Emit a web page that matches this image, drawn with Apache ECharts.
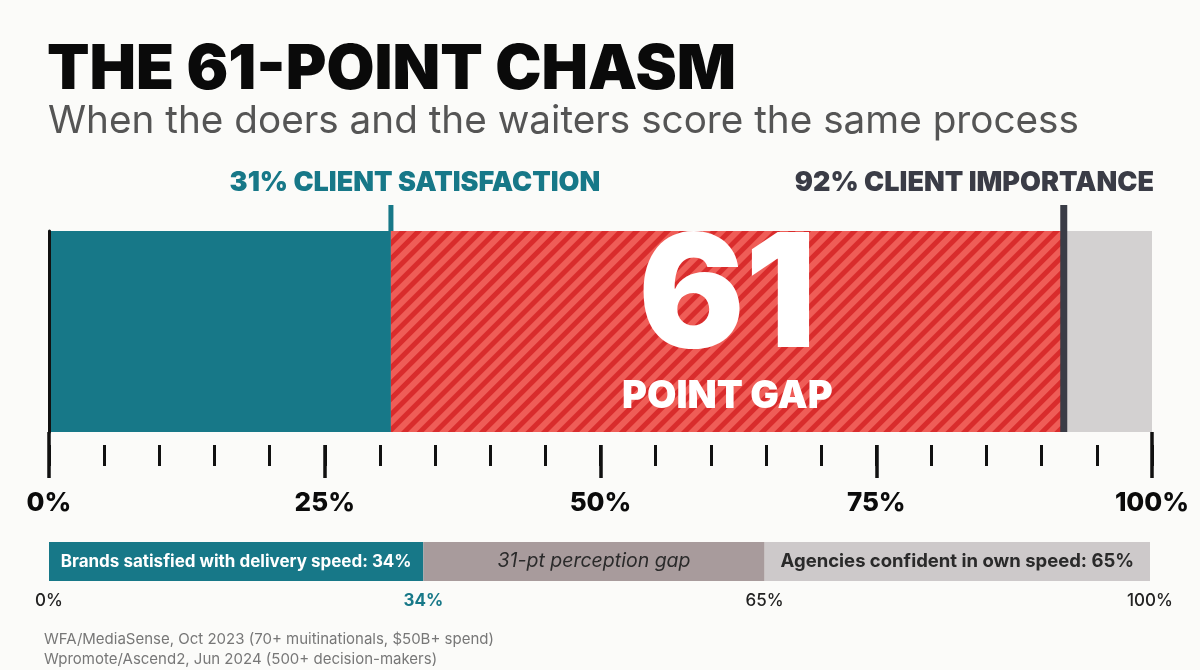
<!DOCTYPE html>
<html>
<head>
<meta charset="utf-8">
<script src="https://cdn.jsdelivr.net/npm/echarts@6/dist/echarts.min.js"></script>
<style>
  html, body { margin: 0; padding: 0; background: #fbfbf9; }
  #chart { width: 1200px; height: 670px; }
</style>
</head>
<body>
<div id="chart"></div>
<script>
// main bar: satisfaction / gap / rest of the scale
var mainNames = ['Client satisfaction', 'Point gap', 'Remainder'];
var mainValues = [31, 61, 8];
var markerValues = [31, 92];
var markerLabels = ['31% CLIENT SATISFACTION', '92% CLIENT IMPORTANCE'];

// delivery speed bar
var speedNames = ['Brands', 'Gap', 'Agencies'];
var speedValues = [34, 31, 35];
var speedLabels = ['Brands satisfied with delivery speed: 34%', '31-pt perception gap', 'Agencies confident in own speed: 65%'];
var speedTicks = [0, 34, 65, 100];

var sources = [
  'WFA/MediaSense, Oct 2023 (70+ muitinationals, $50B+ spend)',
  'Wpromote/Ascend2, Jun 2024 (500+ decision-makers)'
];

var FONT = 'Inter, Lato, sans-serif';
var TEAL = '#177888';

var myChart = echarts.init(document.getElementById('chart'));

var mainColors = [TEAL, '#d92c2c', '#d3d1d1'];
var speedColors = [TEAL, '#a89b9c', '#cdc9ca'];

var series = [];
mainValues.forEach(function (v, i) {
  var s = {
    name: mainNames[i],
    type: 'bar',
    stack: 'main',
    xAxisIndex: 0,
    yAxisIndex: 0,
    barWidth: '100%',
    data: [v],
    itemStyle: { color: mainColors[i] },
    silent: true
  };
  if (i === 1) {
    // diagonal hatching, rising to the right
    s.itemStyle.decal = {
      symbol: 'rect',
      symbolSize: 1,
      color: '#ef5d57',
      dashArrayX: [1, 0],
      dashArrayY: [6, 5],
      rotation: -Math.PI / 4
    };
    s.label = {
      show: true,
      position: 'inside',
      formatter: function () { return '{big|' + mainValues[1] + '}\n{small|POINT GAP}'; },
      rich: {
        big: { fontSize: 158, fontWeight: 900, color: '#fff', fontFamily: FONT, lineHeight: 131 },
        small: { fontSize: 38, fontWeight: 900, color: '#fff', fontFamily: FONT, lineHeight: 64 }
      }
    };
  }
  series.push(s);
});

speedValues.forEach(function (v, i) {
  series.push({
    name: speedNames[i],
    type: 'bar',
    stack: 'speed',
    xAxisIndex: 3,
    yAxisIndex: 1,
    barWidth: '100%',
    data: [v],
    itemStyle: { color: speedColors[i] },
    silent: true,
    label: {
      show: true,
      position: 'inside',
      formatter: speedLabels[i],
      fontFamily: FONT,
      fontSize: [17, 19.5, 18.5][i],
      fontWeight: i === 1 ? 400 : 700,
      fontStyle: i === 1 ? 'italic' : 'normal',
      color: i === 0 ? '#fff' : '#2a2a2a'
    }
  });
});

// marker lines with their headings
series.push({
  type: 'custom',
  xAxisIndex: 0,
  yAxisIndex: 0,
  silent: true,
  z: 10,
  data: markerValues.map(function (v) { return [v, 0]; }),
  renderItem: function (params, api) {
    var pt = api.coord([api.value(0), 0]);
    var h = api.size([0, 1])[1];
    var top = pt[1] - h / 2, bottom = pt[1] + h / 2;
    var right = api.coord([100, 0])[0];
    var first = params.dataIndex === 0;
    var color = first ? TEAL : '#3a3c46';
    return {
      type: 'group',
      children: [
        {
          type: 'line',
          shape: { x1: pt[0], y1: top - 26, x2: pt[0], y2: first ? top : bottom },
          style: { stroke: color, lineWidth: first ? 5 : 7 }
        },
        {
          type: 'text',
          style: {
            text: markerLabels[params.dataIndex],
            x: first ? pt[0] + 24 : right + 2,
            y: top - 48,
            align: first ? 'center' : 'right',
            verticalAlign: 'middle',
            fill: color,
            fontFamily: FONT,
            fontSize: 27,
            fontWeight: 900
          }
        }
      ]
    };
  }
});

myChart.setOption({
  animation: false,
  backgroundColor: '#fbfbf9',
  title: [
    {
      text: 'THE 61-POINT CHASM',
      left: 42, top: 34,
      textStyle: { fontFamily: FONT, fontSize: 62, fontWeight: 900, color: '#0a0a0a' }
    },
    {
      text: 'When the doers and the waiters score the same process',
      left: 43, top: 97,
      textStyle: { fontFamily: FONT, fontSize: 38.7, fontWeight: 400, color: '#555' }
    },
    {
      text: sources.join('\n'),
      left: 39, top: 624,
      textStyle: { fontFamily: FONT, fontSize: 15, fontWeight: 400, color: '#777', lineHeight: 20 }
    }
  ],
  grid: [
    { left: 49, right: 48, top: 231, height: 201 },
    { left: 49, right: 50, top: 542, height: 39 }
  ],
  xAxis: [
    {
      type: 'value', gridIndex: 0, min: 0, max: 100, interval: 5, offset: 13,
      axisLine: { show: false }, splitLine: { show: false }, axisLabel: { show: false },
      axisTick: { show: true, length: 21, lineStyle: { color: '#111', width: 3 } }
    },
    {
      type: 'value', gridIndex: 0, min: 0, max: 100, interval: 25, offset: 13, position: 'bottom',
      axisLine: { show: false }, splitLine: { show: false },
      axisTick: { show: true, length: 33, lineStyle: { color: '#111', width: 3.5 } },
      axisLabel: {
        margin: 45, formatter: '{value}%', fontFamily: FONT, fontSize: 26, fontWeight: 800, color: '#0b0b0b'
      }
    },
    {
      type: 'value', gridIndex: 0, min: 0, max: 100, interval: 100, position: 'bottom',
      axisLine: { show: false }, splitLine: { show: false }, axisLabel: { show: false },
      axisTick: { show: true, length: 46, lineStyle: { color: '#111', width: 3.5 } }
    },
    {
      type: 'value', gridIndex: 1, min: 0, max: 100,
      axisLine: { show: false }, splitLine: { show: false }, axisTick: { show: false },
      axisLabel: {
        customValues: speedTicks,
        margin: 11,
        fontFamily: FONT, fontSize: 17, fontWeight: 500, color: '#222',
        formatter: function (v) { return v === 34 ? '{teal|' + v + '%}' : v + '%'; },
        rich: { teal: { fontFamily: FONT, fontSize: 17, fontWeight: 700, color: TEAL } }
      }
    }
  ],
  yAxis: [
    {
      type: 'category', gridIndex: 0, data: ['main'], z: 5,
      axisLine: { show: true, lineStyle: { color: '#111', width: 3 } },
      axisTick: { show: false }, axisLabel: { show: false }, splitLine: { show: false }
    },
    {
      type: 'category', gridIndex: 1, data: ['speed'],
      axisLine: { show: false }, axisTick: { show: false }, axisLabel: { show: false }, splitLine: { show: false }
    }
  ],
  series: series
});
</script>
</body>
</html>
